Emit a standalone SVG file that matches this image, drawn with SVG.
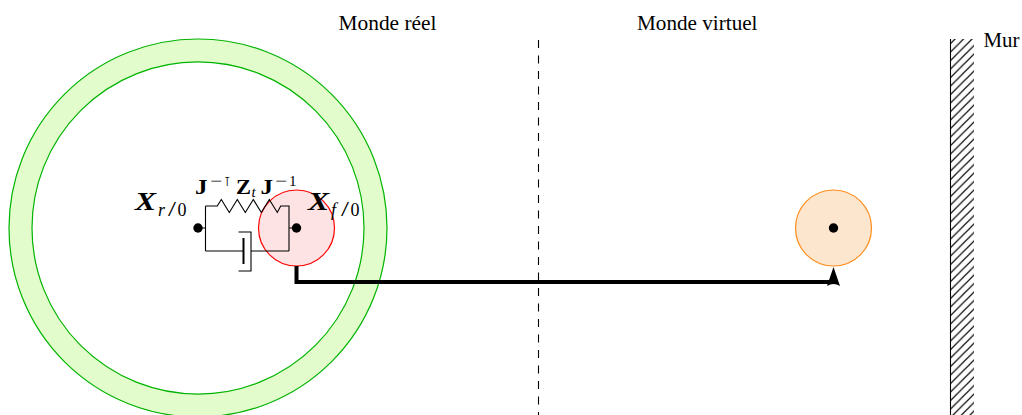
<svg xmlns="http://www.w3.org/2000/svg" width="1022" height="415" viewBox="0 0 1022 415">
<style>
text{font-family:"Liberation Serif","Times New Roman",serif;fill:#000}
.t{font-size:20.500px}
.b{font-weight:bold;font-size:22px}
.s{font-size:15px}
.X{font-weight:bold;font-style:italic;font-size:25px}
.i{font-size:18px}
.l{font-size:22px}
.w{fill:none;stroke:#000;stroke-width:1.100}
.d{fill:#000}
</style>
<defs>
<pattern id="hatch" width="8.500" height="8.500" patternUnits="userSpaceOnUse" patternTransform="translate(950 39)">
<path d="M-1 6L6 -1M-1 14.500L14.500 -1" stroke="#000" stroke-width="1.200" fill="none"/>
</pattern>
</defs>
<g id="ring"><path d="M9 228a189 189 0 1 0 378 0a189 189 0 1 0 -378 0ZM32 228a166 166 0 1 1 332 0a166 166 0 1 1 -332 0Z" fill="#e2fccb" fill-rule="evenodd" stroke="#00b300" stroke-width="1.200"/></g>
<g id="divider"><line x1="538.500" y1="40" x2="538.500" y2="415" stroke="#000" stroke-width="1.100" stroke-dasharray="8 7.500"/></g>
<g id="wall"><rect x="950" y="39" width="24" height="376" fill="url(#hatch)"/><line x1="950.500" y1="39" x2="950.500" y2="415" stroke="#000" stroke-width="1.100"/></g>
<g id="robot"><circle cx="296.500" cy="228" r="38" fill="#fde3e3" stroke="#f00" stroke-width="1.200"/></g>
<g id="virtual"><circle cx="833.500" cy="228" r="38" fill="#fde6ce" stroke="#ff8c1a" stroke-width="1.200"/><circle class="d" cx="833.500" cy="228" r="4.700"/></g>
<g id="connectors">
<path class="w" d="M198 228H205.500M205.500 206V251M205.500 206H217.300L221.300 199.500L229.300 212.500L237.300 199.500L245.300 212.500L253.300 199.500L261.300 212.500L269.300 199.500L277.300 212.500L280.700 206H289V251M289 228H296M205.500 251H243M251 251H289M238.500 232H251V271H238.500"/>
<line x1="243.500" y1="238" x2="243.500" y2="264" stroke="#000" stroke-width="2"/>
<path d="M296.500 266V282H831" fill="none" stroke="#000" stroke-width="4"/>
<path class="d" d="M833.500 267L840 286Q833.500 282 827 286Z"/>
</g>
<g id="frame-r"><circle class="d" cx="198" cy="228" r="4.700"/><text class="X" x="135" y="210" textLength="21" lengthAdjust="spacingAndGlyphs">X</text><text class="i" x="158" y="215.500" font-style="italic">r</text><text class="l" x="168" y="216" textLength="8" lengthAdjust="spacingAndGlyphs">/</text><text class="i" x="177.500" y="215.500">0</text></g>
<g id="frame-f"><circle class="d" cx="296.500" cy="228" r="4.700"/><text class="X" x="308" y="210" textLength="21" lengthAdjust="spacingAndGlyphs">X</text><text class="i" x="331" y="215.500" font-style="italic">f</text><text class="l" x="341" y="216" textLength="8" lengthAdjust="spacingAndGlyphs">/</text><text class="i" x="350.500" y="215.500">0</text></g>
<g id="labels">
<text class="t" x="338.500" y="30" textLength="98" lengthAdjust="spacingAndGlyphs">Monde réel</text>
<text class="t" x="637" y="30" textLength="120.500" lengthAdjust="spacingAndGlyphs">Monde virtuel</text>
<text class="t" x="983.500" y="47" textLength="36" lengthAdjust="spacingAndGlyphs">Mur</text>
<text class="b" x="195" y="194" textLength="12.500" lengthAdjust="spacingAndGlyphs">J</text><text class="s" x="210" y="185.500" textLength="12" lengthAdjust="spacingAndGlyphs">−</text><text x="224" y="186" style="font-family:'DejaVu Sans',sans-serif;font-size:13px">⊺</text><text class="b" x="236" y="194" textLength="15" lengthAdjust="spacingAndGlyphs">Z</text><text class="s" x="251.500" y="197" font-style="italic">t</text><text class="b" x="260.500" y="194" textLength="12.500" lengthAdjust="spacingAndGlyphs">J</text><text class="s" x="275" y="185.500" textLength="12" lengthAdjust="spacingAndGlyphs">−</text><text class="s" x="289" y="185.500">1</text>
</g>
</svg>
